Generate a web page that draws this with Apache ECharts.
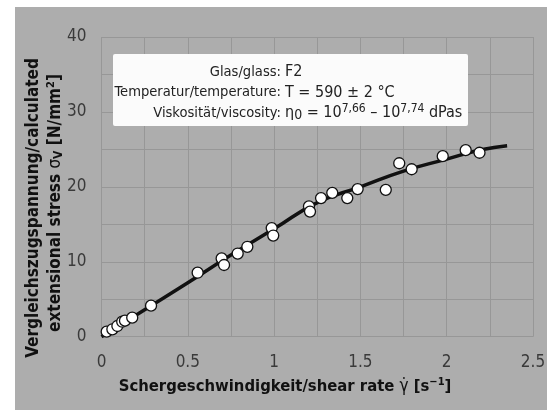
<!DOCTYPE html>
<html>
<head>
<meta charset="utf-8">
<script src="https://cdn.jsdelivr.net/npm/echarts@6/dist/echarts.min.js"></script>
<style>
  html, body { margin: 0; padding: 0; background: #fff; }
  #chart { width: 560px; height: 410px; }
</style>
</head>
<body>
<div id="chart"></div>
<script>
// measured points (shear rate, extensional stress)
var pointsX = [0.03, 0.063, 0.092, 0.12, 0.136, 0.178, 0.287, 0.557, 0.696, 0.71, 0.789, 0.845,
               0.986, 0.995, 1.202, 1.208, 1.272, 1.337, 1.424, 1.484, 1.647, 1.725, 1.797,
               1.977, 2.11, 2.19];
var pointsY = [0.67, 0.99, 1.43, 2.0, 2.14, 2.54, 4.14, 8.54, 10.45, 9.57, 11.1, 12.0,
               14.5, 13.5, 17.4, 16.7, 18.5, 19.2, 18.5, 19.7, 19.6, 23.15, 22.35,
               24.1, 24.9, 24.55];
// calculated curve
var curveX = [0, 0.25, 0.5, 0.75, 1, 1.25, 1.5, 1.75, 2, 2.2, 2.35];
var curveY = [0, 3.6, 7.2, 10.9, 14.4, 17.9, 20.0, 22.1, 23.7, 24.95, 25.5];

var boxLabels = ['Glas/glass:', 'Temperatur/temperature:', 'Viskosität/viscosity:'];
var boxValues = ['F2', 'T = 590 ± 2 °C', '{n|η}{sub|0} = 10{sup|7,66} – 10{sup|7,74} dPas'];

var narrow = "'Liberation Sans Narrow', 'DejaVu Sans Condensed', sans-serif";

var chart = echarts.init(document.getElementById('chart'));

function zip(a, b) {
    var out = [];
    for (var i = 0; i < a.length; i++) out.push([a[i], b[i]]);
    return out;
}

var boxText = [];
boxLabels.forEach(function (t, i) {
    boxText.push({
        type: 'text', z: 101, x: 281, y: 72 + i * 20.5,
        style: { text: t, align: 'right', verticalAlign: 'middle',
                 font: '14.6px ' + narrow, fill: '#222' }
    });
    boxText.push({
        type: 'text', z: 101, x: 285, y: 72 + i * 20.5,
        style: { text: boxValues[i], align: 'left', verticalAlign: 'middle',
                 font: '16px ' + narrow, fill: '#222',
                 rich: {
                     n: { fontSize: 16, fontFamily: narrow, fill: '#222' },
                     sub: { fontSize: 14, fontFamily: narrow, padding: [4, 0, 0, 0], fill: '#222' },
                     sup: { fontSize: 12, fontFamily: narrow, verticalAlign: 'top', padding: [0, 0, 8, 0], fill: '#222' }
                 } }
    });
});

var option = {
    backgroundColor: '#fff',
    animation: false,
    grid: { left: 101.5, right: 27, top: 37, bottom: 73.3 },
    xAxis: {
        type: 'value', min: 0, max: 2.5, interval: 0.5,
        axisLine: { show: false }, axisTick: { show: false },
        axisLabel: { margin: 17, fontSize: 17, fontFamily: narrow, color: '#3a3a3a' },
        splitLine: { lineStyle: { color: '#979797', width: 1 } },
        minorTick: { show: false, splitNumber: 2 },
        minorSplitLine: { show: true, lineStyle: { color: '#979797', width: 1 } }
    },
    yAxis: {
        type: 'value', min: 0, max: 40, interval: 10,
        axisLine: { show: false }, axisTick: { show: false },
        axisLabel: { margin: 15, fontSize: 17, fontFamily: narrow, color: '#3a3a3a' },
        splitLine: { lineStyle: { color: '#979797', width: 1 } },
        minorTick: { show: false, splitNumber: 2 },
        minorSplitLine: { show: true, lineStyle: { color: '#979797', width: 1 } }
    },
    graphic: [
        { type: 'rect', z: -10, silent: true,
          shape: { x: 15, y: 7, width: 532, height: 403 },
          style: { fill: '#adadad' } },
        { type: 'rect', z: 100, silent: true,
          shape: { x: 113, y: 54, width: 355, height: 72, r: 2 },
          style: { fill: '#fbfbfb' } },
        { type: 'text', z: 100, x: 285, y: 387,
          style: { text: '{b|Schergeschwindigkeit/shear rate }{g|γ̇}{b| [s}{sup|−1}{b|]}',
                   align: 'center', verticalAlign: 'middle',
                   rich: {
                       b: { fontSize: 16.5, fontWeight: 'bold', fontFamily: narrow, fill: '#111' },
                       g: { fontSize: 17, fontFamily: narrow, fill: '#111' },
                       sup: { fontSize: 11, fontWeight: 'bold', fontFamily: narrow, fill: '#111', verticalAlign: 'top', padding: [0, 0, 9, 0] }
                   } } },
        { type: 'text', z: 100, x: 34, y: 208, rotation: Math.PI / 2,
          style: { text: 'Vergleichszugspannung/calculated', align: 'center', verticalAlign: 'middle',
                   font: 'bold 17px ' + narrow, fill: '#111' } },
        { type: 'text', z: 100, x: 56, y: 203, rotation: Math.PI / 2,
          style: { text: '{b|extensional stress }{s|σ}{sub|V}{b| [N/mm}{sup|2}{b|]}',
                   align: 'center', verticalAlign: 'middle',
                   rich: {
                       b: { fontSize: 17, fontWeight: 'bold', fontFamily: narrow, fill: '#111' },
                       s: { fontSize: 17, fontFamily: narrow, fill: '#111' },
                       sub: { fontSize: 12, fontWeight: 'bold', fontFamily: narrow, fill: '#111', padding: [6, 0, 0, 0] },
                       sup: { fontSize: 11, fontWeight: 'bold', fontFamily: narrow, fill: '#111', verticalAlign: 'top', padding: [0, 0, 9, 0] }
                   } } }
    ].concat(boxText),
    series: [
        {
            type: 'line', smooth: true, symbol: 'none', z: 2,
            data: zip(curveX, curveY),
            lineStyle: { color: '#111', width: 3.5 }
        },
        {
            type: 'scatter', z: 3,
            data: zip(pointsX, pointsY),
            symbolSize: 11,
            itemStyle: { color: '#fff', borderColor: '#111', borderWidth: 1.3, opacity: 1 }
        }
    ]
};
chart.setOption(option);
</script>
</body>
</html>
